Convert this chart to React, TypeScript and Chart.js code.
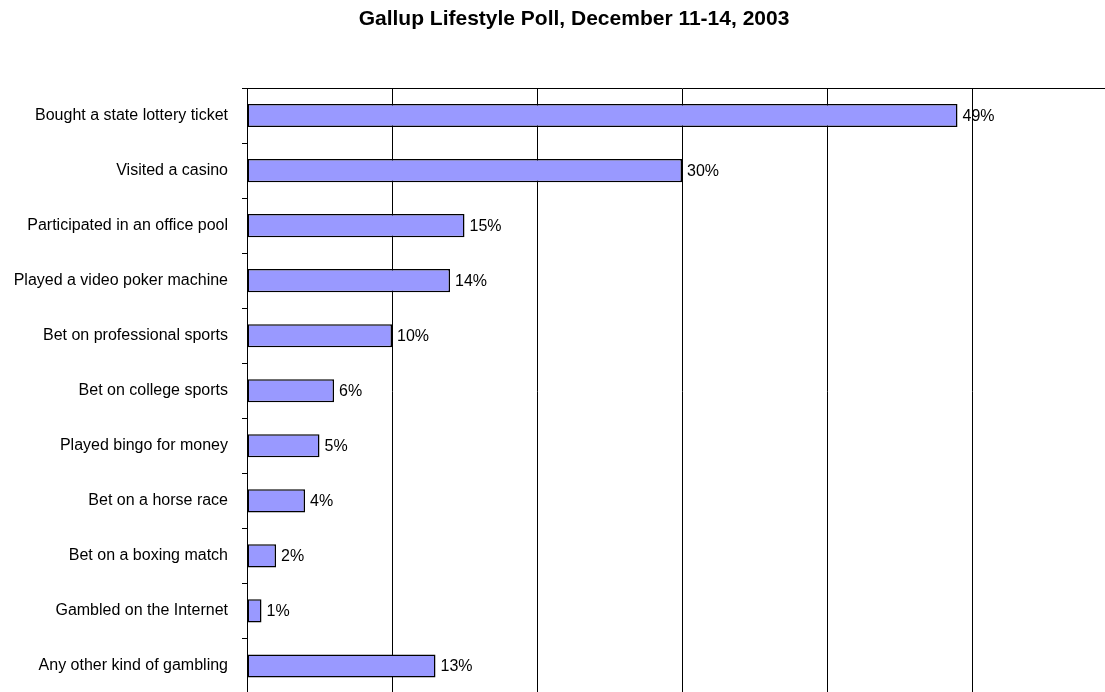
import React, { useEffect, useRef } from "react";
import { Chart, registerables } from "chart.js";

Chart.register(...registerables);

const titleText = "Gallup Lifestyle Poll, December 11-14, 2003";
const categories = [
  "Bought a state lottery ticket",
  "Visited a casino",
  "Participated in an office pool",
  "Played a video poker machine",
  "Bet on professional sports",
  "Bet on college sports",
  "Played bingo for money",
  "Bet on a horse race",
  "Bet on a boxing match",
  "Gambled on the Internet",
  "Any other kind of gambling",
];
const percentValues = [49, 30, 15, 14, 10, 6, 5, 4, 2, 1, 13];
const axisMin = 0;
const axisMax = 60;
const axisStep = 10;

const FONT = "'Liberation Sans', Arial, Helvetica, sans-serif";

const titlePlugin = {
  id: "customTitle",
  afterDraw(chart: any) {
    const ctx = chart.ctx;
    ctx.save();
    ctx.font = `bold 21px ${FONT}`;
    ctx.fillStyle = "#000";
    ctx.textAlign = "center";
    ctx.textBaseline = "alphabetic";
    ctx.fillText(titleText, 574, 25);
    ctx.restore();
  },
};

const valueLabelPlugin = {
  id: "valueLabels",
  afterDatasetsDraw(chart: any) {
    const ctx = chart.ctx;
    const meta = chart.getDatasetMeta(0);
    ctx.save();
    ctx.font = `16px ${FONT}`;
    ctx.fillStyle = "#000";
    ctx.textAlign = "left";
    ctx.textBaseline = "middle";
    meta.data.forEach((bar: any, i: number) => {
      ctx.fillText(percentValues[i] + "%", bar.x + 5, bar.y + 1);
    });
    ctx.restore();
  },
};

function zeroPadding(scale: any) {
  scale.paddingTop = 0;
  scale.paddingBottom = 0;
  scale.paddingLeft = 0;
  scale.paddingRight = 0;
}

export default function App() {
  const canvasRef = useRef<HTMLCanvasElement | null>(null);

  useEffect(() => {
    const canvas = canvasRef.current;
    if (!canvas) return;
    const chart = new Chart(canvas, {
      type: "bar",
      data: {
        labels: categories,
        datasets: [
          {
            data: percentValues,
            backgroundColor: "#9999FF",
            borderColor: "#000000",
            borderWidth: 1.5,
            borderSkipped: false,
            barPercentage: 0.42,
            categoryPercentage: 1,
          },
        ],
      },
      options: {
        indexAxis: "y",
        responsive: false,
        animation: false,
        devicePixelRatio: 1,
        layout: { padding: { left: 0, right: 13, top: 88, bottom: 6.5 } },
        plugins: {
          legend: { display: false },
          tooltip: { enabled: false },
          title: { display: false },
        },
        scales: {
          x: {
            position: "top",
            min: axisMin,
            max: axisMax,
            ticks: { display: false, stepSize: axisStep },
            grid: { color: "#000", lineWidth: 1, drawTicks: false },
            border: { display: true, color: "#000", width: 1 },
            afterFit(scale: any) {
              scale.height = 0;
              zeroPadding(scale);
            },
          },
          y: {
            ticks: {
              color: "#000",
              font: { family: FONT, size: 16 },
              padding: 14,
            },
            grid: {
              offset: true,
              drawOnChartArea: false,
              tickLength: 5,
              color: "#000",
            },
            border: { display: true, color: "#000", width: 1 },
            afterFit(scale: any) {
              scale.width = 247;
              zeroPadding(scale);
            },
          },
        },
      },
      plugins: [titlePlugin, valueLabelPlugin],
    } as any);
    return () => chart.destroy();
  }, []);

  return (
    <div
      style={{
        position: "fixed",
        left: 0,
        top: 0,
        width: 1105,
        height: 692,
        overflow: "hidden",
        background: "#fff",
      }}
    >
      <canvas ref={canvasRef} width={1130} height={700} style={{ display: "block" }} />
    </div>
  );
}
